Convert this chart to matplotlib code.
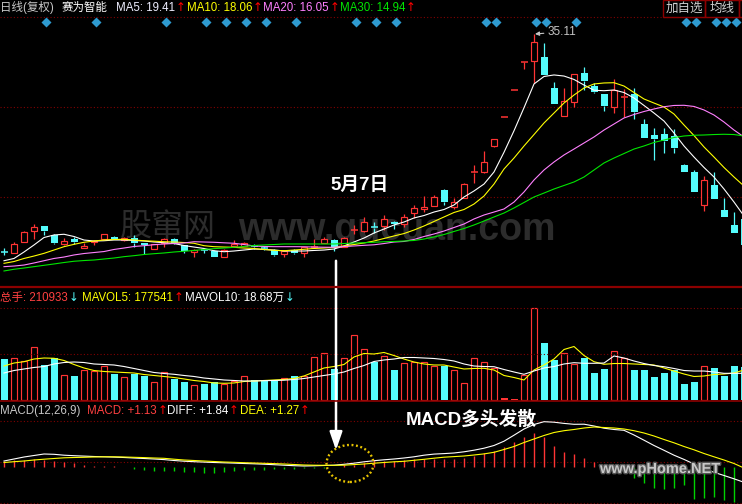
import matplotlib
matplotlib.use('Agg')
import matplotlib.pyplot as plt
from matplotlib.patches import Rectangle, Ellipse, FancyArrowPatch
from matplotlib.lines import Line2D
import matplotlib.patheffects as pe

plt.rcParams['font.family'] = ['Liberation Sans', 'Noto Sans CJK SC', 'DejaVu Sans']

# ---- daily candles (price) ----
opens = [10.89, 10.81, 12.03, 13.26, 13.78, 12.78, 11.78, 12.30, 11.30, 12.00,
         12.37, 12.59, 12.22, 12.48, 11.86, 11.19, 11.86, 12.30, 11.67, 10.86,
         11.19, 11.03, 10.37, 11.56, 11.61, 11.56, 11.33, 11.11, 10.63, 11.11,
         10.74, 11.39, 11.92, 12.22, 11.48, 13.30, 13.22, 13.67, 13.81, 14.26,
         14.00, 15.26, 15.63, 16.03, 17.78, 15.92, 16.86, 19.70, 19.81, 22.67,
         25.89, 28.83, 32.00, 32.14, 32.52, 29.14, 26.03, 27.52, 30.74, 29.33,
         28.44, 27.03, 28.14, 28.44, 25.08, 23.89, 24.00, 23.81, 20.56, 19.81,
         16.11, 18.33, 15.56, 13.89, 14.56]
highs = [11.33, 12.00, 13.26, 14.00, 13.78, 12.89, 12.41, 12.59, 11.92, 12.22,
         12.89, 12.67, 12.61, 12.78, 11.89, 11.83, 12.48, 12.39, 11.72, 11.22,
         11.37, 11.11, 11.17, 12.22, 12.00, 11.83, 11.61, 11.17, 11.11, 11.17,
         11.50, 12.30, 12.52, 12.33, 12.56, 13.89, 14.74, 14.26, 15.00, 14.33,
         15.08, 16.11, 17.14, 17.22, 17.89, 16.92, 18.56, 20.56, 22.06, 23.44,
         25.94, 28.89, 32.06, 35.11, 34.08, 29.74, 29.08, 30.67, 31.41, 29.70,
         28.44, 30.08, 28.97, 29.08, 25.63, 24.63, 24.63, 24.52, 20.67, 20.00,
         19.33, 19.81, 16.86, 15.30, 14.56]
lows = [10.56, 10.78, 12.03, 12.30, 12.81, 11.78, 11.67, 11.74, 11.30, 11.67,
        12.37, 12.33, 12.11, 11.48, 10.67, 11.17, 11.48, 11.78, 10.81, 10.37,
        10.81, 10.33, 10.33, 11.44, 11.56, 11.22, 11.06, 10.39, 10.33, 10.72,
        10.37, 11.39, 11.89, 11.00, 11.44, 12.89, 13.11, 12.97, 13.33, 13.44,
        13.70, 14.63, 15.37, 16.03, 16.11, 15.63, 16.86, 18.59, 19.63, 22.59,
        25.89, 28.83, 31.19, 29.63, 30.56, 27.30, 26.03, 26.97, 28.89, 28.59,
        26.59, 26.30, 25.86, 25.63, 23.59, 21.11, 21.92, 21.92, 19.81, 17.59,
        15.48, 16.74, 14.81, 13.03, 11.67]
closes = [10.86, 11.78, 13.11, 13.70, 13.26, 11.86, 12.14, 11.97, 11.56, 12.14,
          12.86, 12.37, 12.48, 11.86, 11.67, 11.74, 12.30, 11.86, 11.03, 11.11,
          11.14, 10.37, 11.11, 11.78, 11.86, 11.50, 11.28, 10.56, 11.03, 10.81,
          11.41, 11.44, 12.33, 11.33, 12.41, 13.37, 14.26, 13.59, 14.56, 14.00,
          14.81, 15.74, 15.86, 16.97, 16.48, 16.48, 18.44, 19.78, 20.94, 23.41,
          25.94, 28.89, 32.06, 34.19, 30.56, 27.30, 27.63, 30.67, 29.89, 28.70,
          27.14, 28.89, 28.19, 26.48, 23.59, 23.48, 23.26, 22.41, 19.81, 17.59,
          18.89, 16.74, 14.81, 13.03, 11.67]

ma5 = [9.92, 10.17, 10.89, 11.67, 12.50, 12.78, 12.86, 12.61, 12.22, 12.11,
       12.14, 12.22, 12.22, 12.17, 12.11, 12.00, 11.92, 11.83, 11.61, 11.44,
       11.28, 11.03, 10.92, 11.00, 11.11, 11.22, 11.17, 11.11, 11.00, 11.00,
       11.00, 11.06, 11.11, 11.22, 11.56, 12.00, 12.44, 13.00, 13.44, 13.89,
       14.22, 14.67, 14.94, 15.33, 15.61, 16.11, 17.00, 17.67, 18.44, 19.78,
       21.97, 24.36, 26.92, 29.56, 30.39, 30.56, 30.44, 30.06, 29.44, 28.86,
       28.81, 28.89, 28.61, 28.00, 27.17, 26.33, 25.44, 24.11, 22.67, 21.44,
       20.28, 19.22, 17.89, 16.44, 14.89]
ma10 = [9.63, 9.83, 10.17, 10.44, 10.74, 11.11, 11.48, 11.74, 11.97, 12.11,
        12.22, 12.28, 12.30, 12.22, 12.14, 12.09, 12.03, 12.00, 11.94, 11.86,
        11.59, 11.48, 11.44, 11.41, 11.33, 11.28, 11.17, 11.08, 11.03, 11.11,
        11.19, 11.28, 11.33, 11.39, 11.56, 11.72, 11.89, 12.11, 12.39, 12.67,
        12.94, 13.33, 13.78, 14.28, 14.78, 15.28, 15.61, 16.22, 17.11, 18.44,
        20.11, 21.33, 22.67, 23.94, 25.22, 26.33, 27.44, 28.33, 29.11, 29.56,
        29.67, 29.70, 29.33, 28.61, 27.89, 27.44, 27.00, 26.22, 25.00, 23.83,
        22.56, 21.44, 20.28, 19.22, 18.22]
ma20 = [9.26, 9.33, 9.44, 9.67, 9.92, 10.17, 10.33, 10.56, 10.72, 10.83,
        10.94, 11.17, 11.33, 11.50, 11.59, 11.70, 11.78, 11.83, 11.89, 12.03,
        12.00, 11.97, 11.91, 11.86, 11.72, 11.56, 11.50, 11.48, 11.48, 11.48,
        11.47, 11.44, 11.42, 11.41, 11.50, 11.56, 11.63, 11.69, 11.83, 12.00,
        12.06, 12.28, 12.61, 12.89, 13.22, 13.61, 14.00, 14.56, 15.00, 15.33,
        15.67, 16.44, 17.56, 18.89, 20.00, 20.89, 21.67, 22.33, 23.00, 23.67,
        24.44, 25.11, 25.78, 26.17, 26.50, 26.78, 27.03, 27.17, 27.19, 27.06,
        26.67, 26.11, 25.33, 24.44, 23.67]
ma30 = [8.78, 8.97, 9.11, 9.26, 9.41, 9.56, 9.72, 9.86, 9.94, 10.00,
        10.11, 10.22, 10.37, 10.48, 10.61, 10.70, 10.78, 10.89, 10.97, 11.06,
        11.17, 11.26, 11.33, 11.41, 11.50, 11.61, 11.67, 11.72, 11.78, 11.78,
        11.78, 11.78, 11.78, 11.78, 11.83, 11.89, 11.92, 11.97, 12.03, 12.06,
        12.11, 12.17, 12.33, 12.56, 12.83, 13.17, 13.50, 13.89, 14.33, 14.78,
        15.22, 15.78, 16.39, 17.00, 17.44, 17.89, 18.28, 18.67, 19.22, 20.00,
        20.78, 21.33, 21.83, 22.33, 22.67, 23.06, 23.33, 23.61, 23.78, 23.86,
        23.89, 23.94, 23.97, 23.94, 23.78]

signal_days = [4, 9, 16, 20, 22, 24, 26, 29, 35, 37, 39, 48, 49, 53, 54, 57,
               68, 69, 71, 72, 73]

# ---- volume (万手) ----
volume = [8.91, 9.13, 8.41, 11.46, 7.61, 9.07, 5.43, 5.22, 6.52, 6.30,
          7.39, 5.65, 4.93, 5.65, 5.28, 3.85, 6.02, 4.57, 3.91, 3.26,
          3.48, 3.91, 3.54, 4.13, 5.22, 4.28, 4.07, 4.13, 4.72, 5.22,
          5.22, 9.35, 10.15, 6.74, 9.13, 14.13, 10.98, 8.26, 9.57, 6.52,
          7.98, 8.20, 8.20, 7.39, 7.39, 6.48, 3.63, 9.07, 8.20, 6.89,
          0.37, 0.17, 5.43, 19.93, 12.33, 8.70, 10.15, 7.76, 9.07, 5.80,
          6.74, 10.59, 9.07, 6.52, 6.52, 5.00, 5.87, 6.52, 3.48, 3.91,
          7.33, 6.96, 5.28, 7.39, 7.17]
mavol5 = [7.39, 8.04, 8.33, 8.91, 9.13, 9.07, 8.59, 7.72, 6.96, 6.41,
          6.20, 6.09, 5.98, 5.87, 5.54, 5.33, 5.11, 4.89, 4.57, 4.24,
          4.02, 3.70, 3.63, 3.70, 4.02, 4.13, 4.24, 4.35, 4.46, 4.67,
          5.22, 6.09, 6.96, 7.28, 7.72, 9.35, 10.11, 10.00, 10.33, 9.67,
          8.91, 8.26, 7.83, 7.61, 7.61, 7.17, 6.74, 6.85, 6.89, 6.52,
          5.33, 4.89, 4.35, 6.52, 7.61, 8.91, 10.98, 11.63, 9.67, 8.33,
          7.76, 7.93, 7.93, 7.83, 7.72, 7.61, 6.96, 6.30, 5.65, 5.11,
          5.22, 5.54, 5.65, 5.87, 6.52]
mavol10 = [5.87, 6.41, 6.74, 7.07, 7.28, 7.83, 8.15, 8.26, 8.15, 7.83,
           7.72, 7.61, 7.28, 6.85, 6.41, 5.98, 5.76, 5.59, 5.33, 5.11,
           4.78, 4.57, 4.35, 4.24, 4.13, 4.13, 4.20, 4.24, 4.30, 4.46,
           4.67, 5.00, 5.33, 5.65, 6.09, 6.85, 7.50, 8.37, 8.70, 8.91,
           9.24, 9.24, 9.13, 9.02, 8.80, 8.48, 7.83, 7.39, 7.28, 7.24,
           6.63, 6.09, 5.59, 6.30, 6.96, 7.28, 7.83, 8.11, 7.98, 7.98,
           8.04, 9.57, 9.13, 8.48, 7.93, 7.50, 7.24, 6.85, 6.41, 6.30,
           6.30, 6.09, 5.80, 5.80, 5.80]

# ---- MACD(12,26,9) ----
diff = [0.60, 0.80, 1.00, 1.15, 1.30, 1.27, 1.18, 1.13, 1.09, 1.05,
        1.02, 0.99, 0.95, 0.90, 0.85, 0.80, 0.74, 0.65, 0.58, 0.53,
        0.49, 0.45, 0.42, 0.39, 0.35, 0.32, 0.28, 0.23, 0.18, 0.13,
        0.10, 0.12, 0.15, 0.18, 0.27, 0.38, 0.52, 0.63, 0.72, 0.80,
        0.90, 1.02, 1.18, 1.29, 1.34, 1.40, 1.52, 1.68, 1.88, 2.15,
        2.58, 3.18, 3.80, 4.25, 4.53, 4.48, 4.36, 4.27, 4.28, 4.10,
        3.88, 3.75, 3.67, 3.20, 2.68, 2.15, 1.67, 1.18, 0.76, 0.30,
        -0.17, -0.53, -0.85, -1.18, -1.53]
dea = [0.45, 0.53, 0.60, 0.70, 0.78, 0.85, 0.92, 0.95, 0.97, 1.00,
       1.02, 1.02, 1.00, 0.97, 0.94, 0.90, 0.87, 0.78, 0.70, 0.65,
       0.60, 0.55, 0.50, 0.47, 0.43, 0.40, 0.37, 0.34, 0.30, 0.25,
       0.20, 0.18, 0.17, 0.17, 0.18, 0.24, 0.30, 0.38, 0.45, 0.52,
       0.57, 0.67, 0.77, 0.88, 0.98, 1.04, 1.10, 1.20, 1.31, 1.47,
       1.75, 2.05, 2.45, 2.80, 3.15, 3.45, 3.63, 3.75, 3.90, 4.00,
       3.95, 3.90, 3.80, 3.63, 3.40, 3.10, 2.75, 2.42, 2.05, 1.72,
       1.35, 1.02, 0.70, 0.35, -0.10]
macd = [0.60, 0.70, 0.70, 0.80, 0.73, 0.60, 0.47, 0.37, 0.23, 0.13,
        0.10, 0.07, -0.03, -0.23, -0.33, -0.40, -0.37, -0.40, -0.47, -0.53,
        -0.57, -0.60, -0.53, -0.40, -0.33, -0.30, -0.27, -0.23, -0.20, -0.17,
        -0.13, -0.10, -0.05, 0.03, 0.17, 0.23, 0.37, 0.70, 0.60, 0.63,
        0.70, 0.77, 0.77, 0.80, 0.80, 0.80, 0.87, 1.10, 1.37, 1.60,
        2.03, 2.53, 3.03, 3.37, 3.03, 2.13, 1.47, 1.30, 0.93, 0.47,
        -0.10, -0.30, -0.50, -1.07, -1.63, -2.07, -2.23, -2.07, -1.80, -3.20,
        -3.07, -2.97, -3.30, -3.47, -3.50]

RED = '#ff3434'
CYAN = '#54fcfc'
GREEN = '#00d200'
GRID = '#800000'
W, H = 742, 504

fig = plt.figure(figsize=(W / 100, H / 100), dpi=100, facecolor='black')


def band(top, bottom):
    return [0, 1 - bottom / H, 1, (bottom - top) / H]


ax_p = fig.add_axes(band(17, 287))
ax_v = fig.add_axes(band(287, 401))
ax_m = fig.add_axes(band(401, 504))
for ax in (ax_p, ax_v, ax_m):
    ax.set_facecolor('black')
    ax.set_xlim(-0.4, 73.8)
    ax.set_xticks([])
    ax.set_yticks([])
    for s in ax.spines.values():
        s.set_visible(False)
ax_p.set_ylim(7, 37)
ax_v.set_ylim(-0.22, 24.57)
ax_m.set_ylim(-3.7, 6.6)

dots = (0, (1, 2))
for y in (37, 27, 17):
    ax_p.axhline(y, color=GRID, ls=dots, lw=0.8, clip_on=False)
for y in (20, 10):
    ax_v.axhline(y, color=GRID, ls=dots, lw=0.8)
for y in (4.6, 0.5, -3.6):
    ax_m.axhline(y, color=GRID, ls=dots, lw=0.8, clip_on=False)

for yy, lw in ((287, 1.6), (401, 1.2)):
    fig.add_artist(Line2D([0, 1], [1 - yy / H] * 2, transform=fig.transFigure,
                          color='#8c0000', lw=lw))

# candles
days = list(range(len(closes)))
for i in days:
    o, h, l, c = opens[i], highs[i], lows[i], closes[i]
    col = RED if c >= o else CYAN
    top, bot = max(o, c), min(o, c)
    ax_p.vlines(i, top, h, color=col, lw=0.9)
    ax_p.vlines(i, l, bot, color=col, lw=0.9)
    if top - bot < 0.12:
        ax_p.hlines((top + bot) / 2, i - 0.35, i + 0.35, color=col, lw=1.1)
    elif col == RED:
        ax_p.add_patch(Rectangle((i - 0.31, bot), 0.62, top - bot,
                                 facecolor='black', edgecolor=RED, lw=0.85, zorder=3))
    else:
        ax_p.add_patch(Rectangle((i - 0.35, bot), 0.7, top - bot,
                                 facecolor=CYAN, edgecolor='none', zorder=3))

ax_p.plot(days, ma5, color='white', lw=0.8, zorder=4)
ax_p.plot(days, ma10, color='#ffff00', lw=0.8, zorder=4)
ax_p.plot(days, ma20, color='#ff80ff', lw=0.8, zorder=4)
ax_p.plot(days, ma30, color='#00e600', lw=0.8, zorder=4)

ax_p.plot([d + 0.17 for d in signal_days], [36.45] * len(signal_days), 'D',
          color='#2e9ad0', ms=5.2, mec='none', clip_on=False)

ax_p.annotate('35.11', xy=(53.1, highs[53]), xytext=(54.4, highs[53] + 0.25),
              color='#c4c4c4', fontsize=8.5, va='center', ha='left',
              arrowprops=dict(arrowstyle='-|>', color='#c4c4c4', lw=0.8,
                              mutation_scale=6, shrinkA=1, shrinkB=0))

# volume
for i in days:
    up = closes[i] >= opens[i]
    v = volume[i]
    if up and v > 1:
        ax_v.add_patch(Rectangle((i - 0.31, 0), 0.62, v, facecolor='black',
                                 edgecolor=RED, lw=0.85))
    else:
        ax_v.add_patch(Rectangle((i - 0.35, 0), 0.7, v,
                                 facecolor=RED if up else CYAN, edgecolor='none'))
ax_v.plot(days, mavol5, color='#ffff00', lw=0.8)
ax_v.plot(days, mavol10, color='white', lw=0.8)

# MACD
ax_m.vlines(days, 0, macd, colors=[RED if m > 0 else GREEN for m in macd], lw=1)
ax_m.plot(days, diff, color='white', lw=0.8)
ax_m.plot(days, dea, color='#ffff00', lw=0.8)
ax_m.add_patch(Ellipse((34.6, 0.35), 4.7, 3.7, fill=False, ec='#e8c400',
                       lw=1.7, ls=(0, (0.8, 1.1)), zorder=5))

# header rows: label followed by a small up/down arrow
renderer = fig.canvas.get_renderer()


def seg(txt, px, py, color, arrow=None, arrow_color='red'):
    t = fig.text(px / W, 1 - py / H, txt, color=color, fontsize=8.3,
                 va='center', ha='left')
    if arrow:
        x1 = t.get_window_extent(renderer).x1
        fig.text((x1 + 0.5) / W, 1 - (py - 0.5) / H, arrow, color=arrow_color,
                 fontsize=8.5, va='center', ha='left', family='DejaVu Sans')


seg('日线(复权)', 0, 8, '#c8c8c8')
seg('赛为智能', 62, 8, 'white')
seg('MA5: 19.41', 116, 8, '#eeeeff', '↑')
seg('MA10: 18.06', 187, 8, '#ffff00', '↑')
seg('MA20: 16.05', 263, 8, '#ff80ff', '↑')
seg('MA30: 14.94', 340, 8, '#00e600', '↑')

seg('总手: 210933', 0, 298, '#ff4040', '↓', CYAN)
seg('MAVOL5: 177541', 82, 298, '#ffff00', '↑')
seg('MAVOL10: 18.68万', 185, 298, 'white', '↓', CYAN)

seg('MACD(12,26,9)', 0, 411, '#c8c8c8')
seg('MACD: +1.13', 87, 411, '#ff4040', '↑')
seg('DIFF: +1.84', 167, 411, 'white', '↑')
seg('DEA: +1.27', 240, 411, '#ffff00', '↑')

# buttons top-right
for x0, x1, label in [(663, 705, '加自选'), (705, 739, '均线'), (739, 780, '')]:
    fig.add_artist(Rectangle((x0 / W, 1 - 17 / H), (x1 - x0) / W, 17 / H,
                             transform=fig.transFigure, fill=False,
                             ec='#8c0000', lw=1))
    if label:
        fig.text((x0 + x1) / 2 / W, 1 - 8.5 / H, label, color='#d0d0d0',
                 fontsize=9, ha='center', va='center')

# watermarks
ax_p.text(120 / W, 1 - 228 / H, '股窜网', transform=fig.transFigure,
          color='#2c2c2c', fontsize=23, va='center', ha='left', zorder=0)
ax_p.text(238 / W, 1 - 230 / H, 'www.gucuan.com', transform=fig.transFigure,
          color='#2c2c2c', fontsize=27, fontweight='bold', va='center',
          ha='left', zorder=0)
fig.text(600 / W, 1 - 469 / H, 'www.pHome.NET', color='#c8c8c8', fontsize=10.5,
         fontweight='bold', va='center', ha='left',
         path_effects=[pe.withStroke(linewidth=2, foreground='#555555')])

# annotations
fig.text(360 / W, 1 - 185 / H, '5月7日', color='white', fontsize=13.5,
         fontweight='bold', ha='center', va='center')
fig.text(406 / W, 1 - 420 / H, 'MACD多头发散', color='white', fontsize=13.5,
         fontweight='bold', ha='left', va='center')
fig.add_artist(FancyArrowPatch((336 / W, 1 - 258 / H), (336 / W, 1 - 453 / H),
                               transform=fig.transFigure, color='white', lw=1.8,
                               arrowstyle='-|>,head_length=11,head_width=3.8',
                               mutation_scale=1))

fig.savefig('out.png', dpi=100, facecolor='black')
